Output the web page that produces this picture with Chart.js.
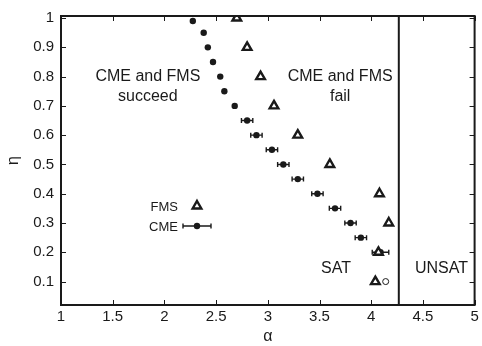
<!DOCTYPE html>
<html><head><meta charset="utf-8">
<script src="https://cdn.jsdelivr.net/npm/chart.js@4/dist/chart.umd.min.js"></script>
<style>html,body{margin:0;padding:0;background:#fff}#wrap{width:482px;height:346px}</style>
</head><body><div id="wrap"><canvas id="c" width="482" height="346"></canvas></div>
<script>
// ---- data ----
const ETA_CME = [0.99,0.95,0.9,0.85,0.8,0.75,0.7,0.65,0.6,0.55,0.5,0.45,0.4,0.35,0.3,0.25,0.2];
const ALPHA_CME = [2.275,2.38,2.42,2.47,2.54,2.58,2.68,2.80,2.89,3.04,3.15,3.29,3.48,3.65,3.80,3.90,4.09];
const ERR_CME = [0,0,0,0,0,0,0,0.055,0.055,0.055,0.055,0.055,0.055,0.055,0.055,0.055,0.08];
const ETA_CME_OPEN = [0.1];
const ALPHA_CME_OPEN = [4.14];
const ETA_FMS = [1.0,0.9,0.8,0.7,0.6,0.5,0.4,0.3,0.2,0.1];
const ALPHA_FMS = [2.70,2.80,2.93,3.06,3.29,3.60,4.08,4.17,4.07,4.04];
const ALPHA_SAT = 4.267;
const X_TICKS = [1,1.5,2,2.5,3,3.5,4,4.5,5];
const Y_TICKS = [0.1,0.2,0.3,0.4,0.5,0.6,0.7,0.8,0.9,1];
const X_RANGE = [1,5];
const Y_RANGE = [0.02,1.007];
const REGION_LABELS = [
  {text:'CME and FMS', a:1.84, e:0.80},
  {text:'succeed', a:1.84, e:0.733},
  {text:'CME and FMS', a:3.70, e:0.80},
  {text:'fail', a:3.70, e:0.733},
  {text:'SAT', a:3.66, e:0.143},
  {text:'UNSAT', a:4.68, e:0.143}
];
const LEGEND_NAMES = ['FMS','CME'];

const FONT = "'Liberation Sans', Arial, Helvetica, sans-serif";
const INK = '#1a1a1a';
Chart.defaults.font.family = FONT;
Chart.defaults.color = INK;

const pts = (xs, ys) => xs.map((v,i)=>({x:v,y:ys[i]}));
const TRI_R = 5, TRI_W = 2.4, DOT_R = 3.2;

const errorBars = {
  id:'errorBars',
  beforeDatasetsDraw(chart){
    const {ctx, scales:{x,y}} = chart;
    ctx.save();
    ctx.strokeStyle = INK; ctx.lineWidth = 1.4;
    ALPHA_CME.forEach((a,i)=>{
      const e = ERR_CME[i]; if(!e) return;
      const py = y.getPixelForValue(ETA_CME[i]);
      const x0 = x.getPixelForValue(a-e), x1 = x.getPixelForValue(a+e);
      ctx.beginPath();
      ctx.moveTo(x0,py); ctx.lineTo(x1,py);
      ctx.moveTo(x0,py-2.5); ctx.lineTo(x0,py+2.5);
      ctx.moveTo(x1,py-2.5); ctx.lineTo(x1,py+2.5);
      ctx.stroke();
    });
    ctx.restore();
  }
};

const frame = {
  id:'frame',
  afterDatasetsDraw(chart){
    const {ctx, chartArea:ca, scales:{x,y}} = chart;
    ctx.save();
    ctx.strokeStyle = INK;
    ctx.lineWidth = 1;
    ctx.beginPath();
    X_TICKS.forEach(v=>{
      const px = Math.round(x.getPixelForValue(v))+0.5;
      ctx.moveTo(px,ca.bottom); ctx.lineTo(px,ca.bottom-5);
      ctx.moveTo(px,ca.top); ctx.lineTo(px,ca.top+5);
    });
    Y_TICKS.forEach(v=>{
      const py = Math.round(y.getPixelForValue(v))+0.5;
      ctx.moveTo(ca.left,py); ctx.lineTo(ca.left+5,py);
      ctx.moveTo(ca.right,py); ctx.lineTo(ca.right-5,py);
    });
    ctx.stroke();
    ctx.lineWidth = 2;
    ctx.strokeRect(ca.left, ca.top, ca.right-ca.left, ca.bottom-ca.top);

    // region labels
    ctx.fillStyle = INK;
    ctx.font = '16px ' + FONT;
    ctx.textAlign = 'center'; ctx.textBaseline = 'middle';
    REGION_LABELS.forEach(l=>{
      ctx.fillText(l.text, x.getPixelForValue(l.a), y.getPixelForValue(l.e));
    });

    // legend
    const lx = ca.left + 136, ly1 = ca.top + 190, ly2 = ca.top + 210;
    ctx.font = '13px ' + FONT;
    ctx.textAlign = 'right';
    ctx.fillText(LEGEND_NAMES[0], lx-19, ly1+1);
    ctx.fillText(LEGEND_NAMES[1], lx-19, ly2+1);
    ctx.fillStyle='#fff'; ctx.strokeStyle=INK; ctx.lineWidth=TRI_W;
    ctx.beginPath();
    ctx.moveTo(lx, ly1-TRI_R); ctx.lineTo(lx+TRI_R*0.866, ly1+TRI_R/2); ctx.lineTo(lx-TRI_R*0.866, ly1+TRI_R/2); ctx.closePath();
    ctx.fill(); ctx.stroke();
    ctx.lineWidth=1.4;
    ctx.beginPath();
    ctx.moveTo(lx-14,ly2); ctx.lineTo(lx+14,ly2);
    ctx.moveTo(lx-14,ly2-2.5); ctx.lineTo(lx-14,ly2+2.5);
    ctx.moveTo(lx+14,ly2-2.5); ctx.lineTo(lx+14,ly2+2.5);
    ctx.stroke();
    ctx.fillStyle=INK;
    ctx.beginPath(); ctx.arc(lx,ly2,DOT_R,0,Math.PI*2); ctx.fill();
    ctx.restore();
  }
};

new Chart(document.getElementById('c'), {
  type:'scatter',
  data:{datasets:[
    {label:'FMS', data:pts(ALPHA_FMS,ETA_FMS), pointStyle:'triangle', pointRadius:TRI_R, pointBorderWidth:TRI_W,
     borderColor:INK, backgroundColor:'#fff', pointBackgroundColor:'#fff', pointBorderColor:INK},
    {label:'CME', data:pts(ALPHA_CME,ETA_CME), pointStyle:'circle', pointRadius:DOT_R, pointBorderWidth:0,
     pointBackgroundColor:INK, backgroundColor:INK, borderColor:INK},
    {label:'CME open', data:pts(ALPHA_CME_OPEN,ETA_CME_OPEN), pointStyle:'circle', pointRadius:3, pointBorderWidth:1,
     pointBackgroundColor:'#fff', pointBorderColor:INK},
    {label:'SAT/UNSAT', data:[{x:ALPHA_SAT,y:Y_RANGE[0]},{x:ALPHA_SAT,y:Y_RANGE[1]}], showLine:true,
     pointRadius:0, borderColor:INK, borderWidth:2}
  ]},
  options:{
    responsive:false, animation:false, devicePixelRatio:1,
    layout:{padding:{top:10,right:6,left:0,bottom:0}},
    plugins:{legend:{display:false}, tooltip:{enabled:false}},
    scales:{
      x:{type:'linear', min:X_RANGE[0], max:X_RANGE[1],
         afterBuildTicks:s=>{s.ticks=X_TICKS.map(v=>({value:v}));},
         afterFit:s=>{s.height=41;},
         grid:{display:false, drawTicks:false}, border:{display:false},
         ticks:{padding:3, font:{size:15}, color:INK, callback:v=>String(v), maxRotation:0, autoSkip:false},
         title:{display:true, text:'α', font:{size:16}, color:INK, padding:{top:0,bottom:0}}},
      y:{type:'linear', min:Y_RANGE[0], max:Y_RANGE[1],
         afterBuildTicks:s=>{s.ticks=Y_TICKS.map(v=>({value:v}));},
         afterFit:s=>{s.width=61;},
         grid:{display:false, drawTicks:false}, border:{display:false},
         ticks:{padding:7, font:{size:15}, color:INK, callback:v=>String(v), autoSkip:false},
         title:{display:true, text:'η', font:{size:16}, color:INK, padding:{top:4,bottom:0}}}
    }
  },
  plugins:[errorBars, frame]
});
</script></body></html>
